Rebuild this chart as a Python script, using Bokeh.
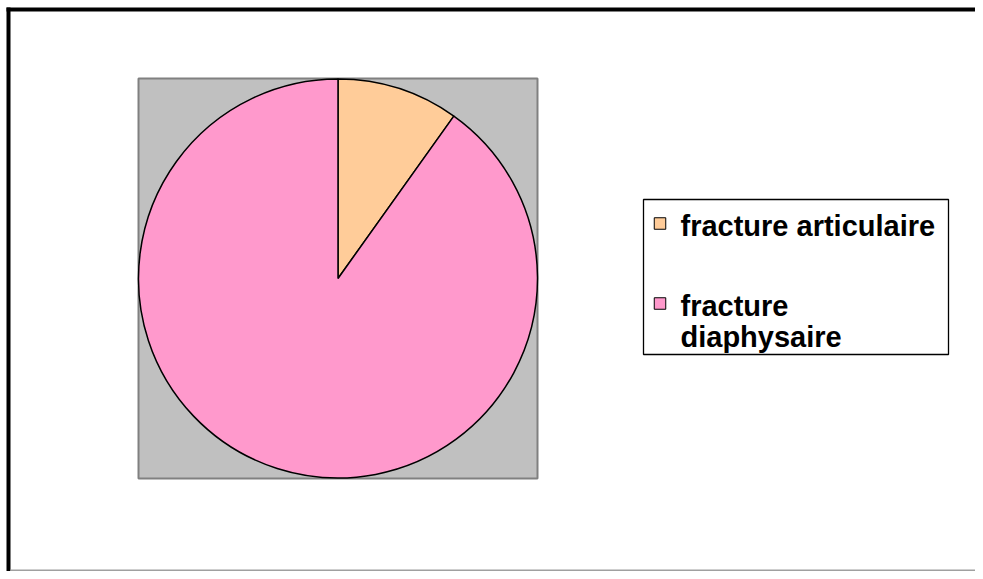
import math
from bokeh.plotting import figure
from bokeh.models import Range1d, ColumnDataSource
from bokeh.core.properties import value
from bokeh.embed import file_html
from bokeh.resources import INLINE

# ---- data ----
categories = ["fracture articulaire", "fracture diaphysaire"]
legend_lines = [["fracture articulaire"], ["fracture", "diaphysaire"]]
counts = [7, 64]
colors = ["#FFCC99", "#FF99CC"]

W, H = 975, 571
p = figure(width=W, height=H, output_backend="svg", toolbar_location=None,
           x_range=Range1d(0, W), y_range=Range1d(0, H),
           min_border=0, outline_line_color=None)
p.axis.visible = False
p.grid.visible = False
p.background_fill_color = "white"
p.border_fill_color = "white"

def sy(screen_y):
    return H - screen_y

# outer chart border (cropped at right/bottom)
p.segment(x0=[6, 8], y0=[sy(9), sy(7)], x1=[W + 5, 8], y1=[sy(9), sy(H + 5)],
          line_color="black", line_width=4)
p.segment(x0=[10], y0=[sy(570)], x1=[W + 5], y1=[sy(570)],
          line_color="#A0A0A0", line_width=2)

# plot area
cx, cy = 337.5, sy(278)
p.rect(x=cx, y=cy, width=399, height=400, fill_color="#C0C0C0",
       line_color="#808080", line_width=2)

# pie
total = sum(counts)
starts, ends = [], []
a = math.pi / 2
for c in counts:
    starts.append(a)
    a -= 2 * math.pi * c / total
    ends.append(a)
src = ColumnDataSource(dict(cat=categories, start=starts, end=ends, color=colors))
p.wedge(x=cx, y=cy, radius=199.5, radius_units="screen", start_angle="start",
        end_angle="end", direction="clock", fill_color="color",
        line_color="black", line_width=1.5, source=src)

# legend box
p.rect(x=795.5, y=sy(276.5), width=305, height=155, fill_color="white",
       line_color="black", line_width=1.3)
sw_y = [223, 303]
for i, cat in enumerate(categories):
    p.rect(x=659.5, y=sy(sw_y[i]), width=11.5, height=11.5, fill_color=colors[i],
           line_color="black", line_width=1)
    for j, line in enumerate(legend_lines[i]):
        base = sw_y[i] + 2 + j * 31
        p.text(x=[680], y=[sy(base)], text=[line], text_font=value("Liberation Sans"),
               text_font_style="bold", text_font_size="29px", text_color="black",
               text_baseline="alphabetic", text_align="left")

open("out.html", "w").write(file_html(p, INLINE))
